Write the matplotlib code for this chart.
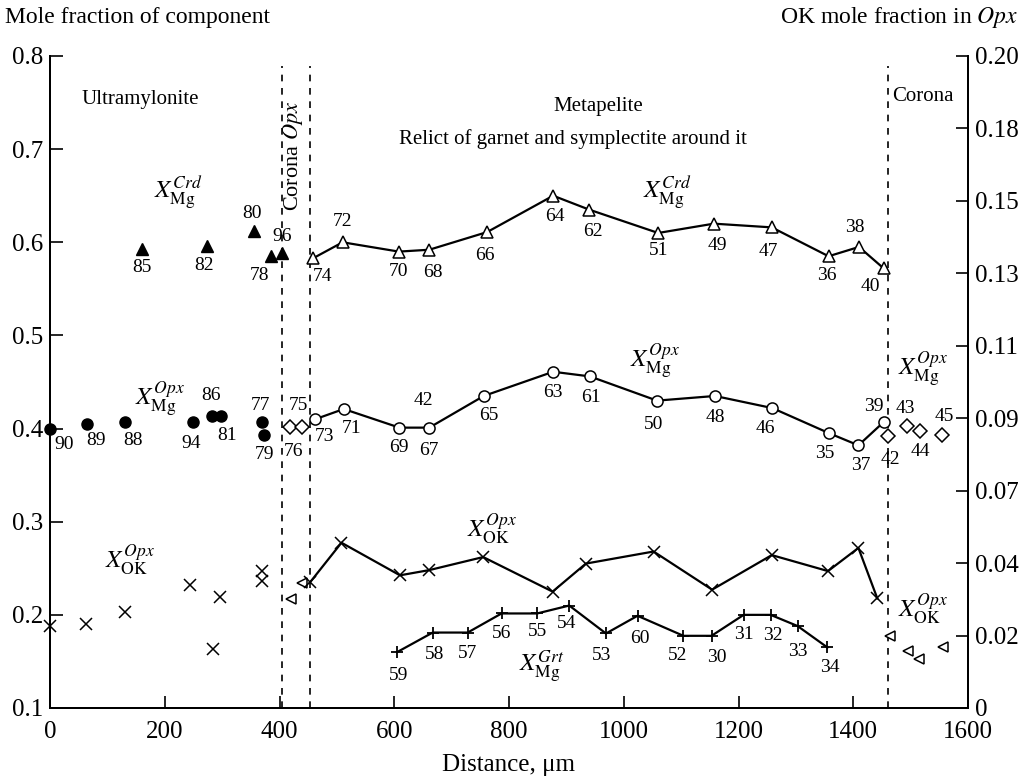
import numpy as np
import matplotlib
matplotlib.use("Agg")
import matplotlib.pyplot as plt

plt.rcParams['font.family'] = ['Liberation Serif', 'DejaVu Serif']
plt.rcParams['mathtext.fontset'] = 'stix'

# --- data (distance in um) ---
# Ultramylonite, X_Mg in cordierite (filled triangles)
crd_ultra_x = [160, 273, 356, 385, 404]
crd_ultra_y = [0.593, 0.596, 0.612, 0.585, 0.588]
crd_ultra_n = ['85', '82', '80', '78', '96']

# Ultramylonite, X_Mg in Opx (filled circles)
opx_ultra_x = [0, 64, 131, 250, 283, 298, 370, 373]
opx_ultra_y = [0.400, 0.405, 0.407, 0.407, 0.414, 0.414, 0.407, 0.393]
opx_ultra_n = ['90', '89', '88', '94', '86', '81', '77', '79']

# Corona Opx, X_Mg (open diamonds)
opx_cor_x = [418, 439, 1460, 1493, 1517, 1555]
opx_cor_y = [0.402, 0.402, 0.392, 0.403, 0.397, 0.393]
opx_cor_n = ['76', '75', '42', '43', '44', '45']

# Metapelite, X_Mg in cordierite (open triangles)
crd_meta_x = [459, 510, 608, 661, 762, 877, 940, 1060, 1157, 1258, 1357, 1410, 1453]
crd_meta_y = [0.583, 0.600, 0.590, 0.592, 0.611, 0.650, 0.635, 0.610, 0.620, 0.616,
              0.585, 0.595, 0.572]
crd_meta_n = ['74', '72', '70', '68', '66', '64', '62', '51', '49', '47', '36', '38', '40']

# Metapelite, X_Mg in Opx (open circles)
opx_meta_x = [462, 512, 609, 661, 756, 877, 941, 1058, 1159, 1259, 1358, 1409, 1453]
opx_meta_y = [0.410, 0.421, 0.401, 0.401, 0.435, 0.461, 0.456, 0.430, 0.435, 0.422,
              0.395, 0.382, 0.407]
opx_meta_n = ['73', '71', '69', '67', '65', '63', '61', '50', '48', '46', '35', '37', '39']

# Metapelite, X_Mg in garnet (plus signs)
grt_x = [605, 667, 728, 787, 849, 905, 969, 1024, 1104, 1153, 1209, 1256, 1303, 1355]
grt_y = [0.160, 0.181, 0.181, 0.2015, 0.2015, 0.210, 0.180, 0.199, 0.1775, 0.1775,
         0.200, 0.200, 0.188, 0.165]
grt_n = ['59', '58', '57', '56', '55', '54', '53', '60', '52', '30', '31', '32', '33', '34']

# OK mole fraction in Opx (right axis)
ok_ultra_x = [0, 62, 130, 244, 296, 284, 369, 369]
ok_ultra_y = [0.0251, 0.0257, 0.0293, 0.0377, 0.0340, 0.0180, 0.0419, 0.0389]
ok_cor_x = [420, 439, 1464, 1496, 1515, 1557]
ok_cor_y = [0.0334, 0.0382, 0.0220, 0.0174, 0.0150, 0.0186]
ok_meta_x = [453, 508, 610, 661, 755, 876, 934, 1052, 1154, 1258, 1356, 1409, 1442]
ok_meta_y = [0.0385, 0.0507, 0.0407, 0.0423, 0.0463, 0.0357, 0.0443, 0.0480, 0.0363,
             0.0469, 0.0420, 0.0491, 0.0336]

zone_bounds = [405, 453, 1461]
right_ticks = [0.2 * k / 9 for k in range(10)]
right_labels = ['0', '0.02', '0.04', '0.07', '0.09', '0.11', '0.13', '0.15', '0.18', '0.20']

# label offsets in pixels (dx right, dy down)
crd_ultra_off = [(0, 19), (-3, 19), (-2, -18), (-11, 19), (0, -17)]
opx_ultra_off = [(14, 16), (9, 17), (8, 18), (-2, 21), (-1, -20), (6, 20), (-2, -17), (0, 19)]
opx_cor_off = [(4, 25), (-3, -21), (3, 23), (-1, -17), (0, 20), (2, -19)]
crd_meta_off = [(9, 18), (0, -21), (0, 20), (4, 23), (-2, 23), (2, 21), (4, 22), (0, 18),
                (4, 22), (-3, 24), (-2, 19), (-4, -19), (-13, 18)]
opx_meta_off = [(9, 17), (8, 19), (-1, 20), (0, 23), (5, 20), (0, 21), (1, 21), (-3, 24),
                (0, 22), (-7, 20), (-4, 20), (2, 20), (-10, -16)]
grt_off = [(1, 23), (2, 22), (0, 21), (0, 20), (0, 18), (-3, 18), (-4, 22), (2, 23),
           (-6, 20), (5, 22), (0, 20), (2, 21), (0, 25), (2, 20)]


def number_labels(axis, xs, ys, names, offsets):
    for x, y, n, (dx, dy) in zip(xs, ys, names, offsets):
        axis.annotate(n, (x, y), xytext=(dx, -dy), textcoords='offset pixels',
                      ha='center', va='center', fontsize=14)


fig = plt.figure(figsize=(10.23, 7.79), dpi=100)
ax = fig.add_axes([50 / 1023, 1 - 708 / 779, 918 / 1023, 652 / 779])
ax2 = ax.twinx()

ax.set_xlim(0, 1600)
ax.set_ylim(0.1, 0.8)
ax2.set_ylim(0, 0.2)

# zone boundaries
for xb in zone_bounds:
    ax.axvline(xb, ymax=0.985, color='black', lw=1.2, ls=(0, (4, 4)))

# left-axis series
ax.plot(crd_ultra_x, crd_ultra_y, ls='none', marker='^', ms=8, color='black', clip_on=False)
ax.plot(opx_ultra_x, opx_ultra_y, ls='none', marker='o', ms=8, color='black', clip_on=False)
ax.plot(opx_cor_x, opx_cor_y, ls='none', marker='D', ms=7, mfc='white', mec='black', mew=1.1)
ax.plot(crd_meta_x, crd_meta_y, '-', color='black', lw=1.6, marker='^', ms=9,
        mfc='white', mec='black', mew=1.1)
ax.plot(opx_meta_x, opx_meta_y, '-', color='black', lw=1.6, marker='o', ms=8,
        mfc='white', mec='black', mew=1.1)
ax.plot(grt_x, grt_y, '-', color='black', lw=1.6, marker='+', ms=9, mew=1.3)

# right-axis series (OK)
ax2.plot(ok_ultra_x, ok_ultra_y, ls='none', marker='x', ms=8, color='black', mew=1.1,
         clip_on=False)
ax2.plot(ok_cor_x, ok_cor_y, ls='none', marker='<', ms=7, mfc='white', mec='black', mew=1.1)
ax2.plot(ok_meta_x, ok_meta_y, '-', color='black', lw=1.6, marker='x', ms=9, mew=1.1)

number_labels(ax, crd_ultra_x, crd_ultra_y, crd_ultra_n, crd_ultra_off)
number_labels(ax, opx_ultra_x, opx_ultra_y, opx_ultra_n, opx_ultra_off)
number_labels(ax, opx_cor_x, opx_cor_y, opx_cor_n, opx_cor_off)
number_labels(ax, crd_meta_x, crd_meta_y, crd_meta_n, crd_meta_off)
number_labels(ax, opx_meta_x, opx_meta_y, opx_meta_n, opx_meta_off)
number_labels(ax, grt_x, grt_y, grt_n, grt_off)
ax.text(650, 0.430, '42', ha='center', va='center', fontsize=14)

# series names
crd_lab = r'$X_{\mathrm{Mg}}^{Crd}$'
opx_lab = r'$X_{\mathrm{Mg}}^{Opx}$'
ok_lab = r'$X_{\mathrm{OK}}^{Opx}$'
grt_lab = r'$X_{\mathrm{Mg}}^{Grt}$'
for x, y, s in [(223, 0.653, crd_lab), (1075, 0.653, crd_lab), (192, 0.431, opx_lab),
                (1055, 0.472, opx_lab), (1522, 0.463, opx_lab), (139, 0.258, ok_lab),
                (770, 0.292, ok_lab), (1522, 0.206, ok_lab), (857, 0.1436, grt_lab)]:
    ax.text(x, y, s, ha='center', va='center', fontsize=18)

# zone names
ax.text(157, 0.753, 'Ultramylonite', ha='center', va='center', fontsize=15)
ax.text(955, 0.746, 'Metapelite', ha='center', va='center', fontsize=15)
ax.text(912, 0.711, 'Relict of garnet and symplectite around it', ha='center',
        va='center', fontsize=15)
ax.text(1521, 0.756, 'Corona', ha='center', va='center', fontsize=15)
ax.text(424, 0.693, r'Corona $Opx$', ha='center', va='center', fontsize=16, rotation=90)

# axes styling
ax.set_xticks(np.arange(0, 1601, 200))
ax.set_yticks(np.arange(0.1, 0.81, 0.1))
ax.set_yticklabels(['0.1', '0.2', '0.3', '0.4', '0.5', '0.6', '0.7', '0.8'])
ax2.set_yticks(right_ticks)
ax2.set_yticklabels(right_labels)
for a in (ax, ax2):
    a.tick_params(direction='in', length=9, width=1.2, labelsize=18, pad=5)
    a.spines['top'].set_visible(False)
    for s in a.spines.values():
        s.set_linewidth(1.4)
ax.tick_params(axis='x', pad=9)
ax.set_xlabel('Distance, μm', fontsize=18, labelpad=8)

fig.text(5 / 1023, 1 - 18 / 779, 'Mole fraction of component', ha='left', va='center',
         fontsize=17)
fig.text(1018 / 1023, 1 - 18 / 779, r'OK mole fraction in $Opx$', ha='right', va='center',
         fontsize=17)

fig.savefig('out.png', dpi=100)
